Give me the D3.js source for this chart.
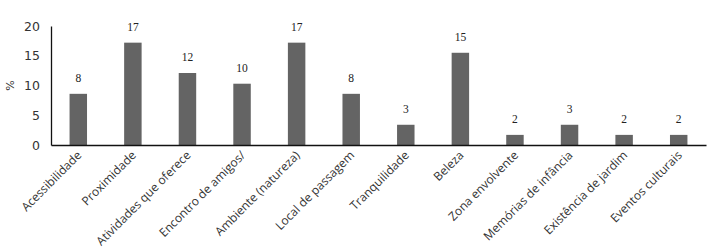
<!DOCTYPE html>
<html><head><meta charset="utf-8">
<script src="https://cdn.jsdelivr.net/npm/d3@7"></script>
<style>body{margin:0;background:#fff}svg{display:block}</style>
</head><body>
<svg id="c" width="725" height="251"></svg>
<script>
const categories = ["Acessibilidade","Proximidade","Atividades que oferece","Encontro de amigos/","Ambiente (natureza)","Local de passagem","Tranquilidade","Beleza","Zona envolvente","Memórias de infância","Existência de jardim","Eventos culturais"];
const values = [8.6, 17.2, 12.1, 10.3, 17.2, 8.6, 3.4, 15.5, 1.7, 3.4, 1.7, 1.7];
const valueLabels = ["8","17","12","10","17","8","3","15","2","3","2","2"];
const yTicks = [0, 5, 10, 15, 20];
const yTitle = "%";

const svg = d3.select("#c");
const m = {l: 51, r: 19, t: 26, b: 106};
const W = 725, H = 251;
const x = d3.scaleBand().domain(categories).range([m.l, W - m.r]).paddingInner(0.68).paddingOuter(0.34);
const y = d3.scaleLinear().domain([0, 20]).range([H - m.b, m.t]);

svg.append("g").selectAll("rect").data(values).join("rect")
  .attr("x", (d, i) => x(categories[i]))
  .attr("y", d => y(d))
  .attr("width", x.bandwidth())
  .attr("height", d => y(0) - y(d))
  .attr("fill", "#646464");

svg.append("g").selectAll("text").data(values).join("text")
  .attr("x", (d, i) => x(categories[i]) + x.bandwidth() / 2)
  .attr("y", d => y(d) - 12)
  .attr("text-anchor", "middle")
  .attr("font-family", "Liberation Serif, serif")
  .attr("font-size", 11.5)
  .attr("fill", "#222")
  .text((d, i) => valueLabels[i]);

const ya = svg.append("g").attr("transform", `translate(${m.l},0)`)
  .call(d3.axisLeft(y).tickValues(yTicks).tickSize(0).tickPadding(11));
ya.select(".domain").attr("stroke", "#111").attr("stroke-width", 1.3);
ya.selectAll("text").attr("font-family", "DejaVu Sans, sans-serif").attr("font-size", 12.5).attr("fill", "#333");

const xa = svg.append("g").attr("transform", `translate(0,${y(0)})`)
  .call(d3.axisBottom(x).tickSize(0).tickSizeOuter(0).tickPadding(0));
xa.select(".domain").attr("stroke", "#111").attr("stroke-width", 1.5);
xa.selectAll("text")
  .attr("font-family", "Open Sans, sans-serif").attr("font-size", 12).attr("fill", "#333")
  .attr("text-anchor", "end")
  .attr("dy", 0)
  .attr("transform", "translate(4,11) rotate(-45)");

svg.append("text")
  .attr("transform", `translate(14,${(y(0)+y(20))/2}) rotate(-90)`)
  .attr("text-anchor", "middle")
  .attr("font-family", "DejaVu Sans, sans-serif").attr("font-size", 11).attr("fill", "#333")
  .text(yTitle);
</script>
</body></html>
